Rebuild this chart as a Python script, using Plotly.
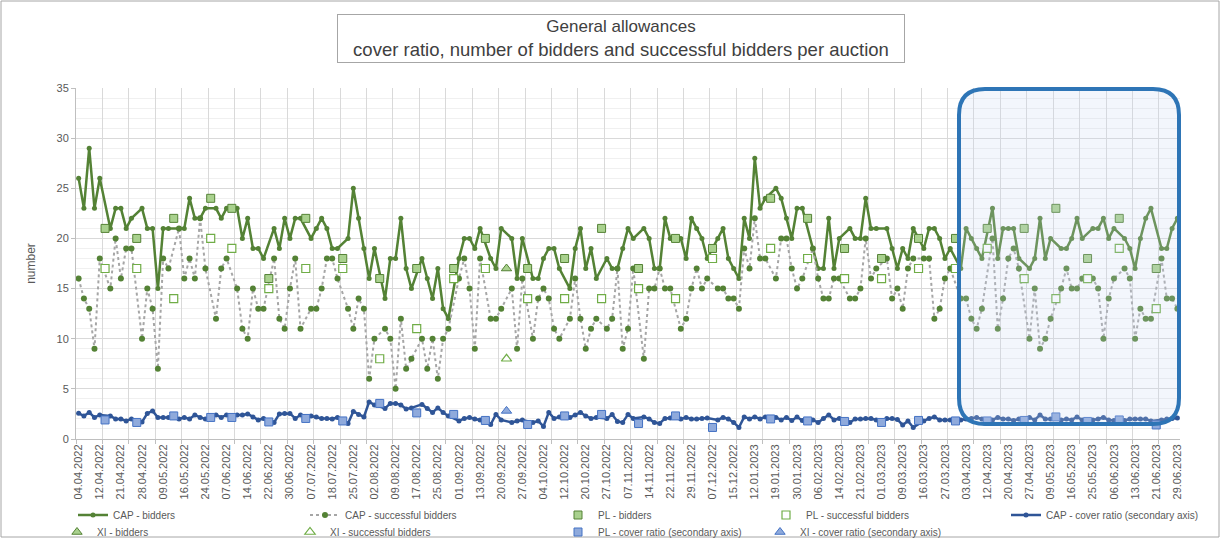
import plotly.graph_objects as go

# ---------------- data ----------------
tick_labels = ["04.04.2022", "12.04.2022", "21.04.2022", "28.04.2022", "09.05.2022", "16.05.2022",
               "24.05.2022", "07.06.2022", "14.06.2022", "22.06.2022", "30.06.2022", "07.07.2022",
               "18.07.2022", "25.07.2022", "02.08.2022", "09.08.2022", "17.08.2022", "25.08.2022",
               "01.09.2022", "13.09.2022", "20.09.2022", "27.09.2022", "04.10.2022", "12.10.2022",
               "20.10.2022", "27.10.2022", "07.11.2022", "14.11.2022", "22.11.2022", "29.11.2022",
               "07.12.2022", "15.12.2022", "12.01.2023", "19.01.2023", "30.01.2023", "06.02.2023",
               "14.02.2023", "21.02.2023", "01.03.2023", "09.03.2023", "16.03.2023", "27.03.2023",
               "03.04.2023", "12.04.2023", "20.04.2023", "27.04.2023", "09.05.2023", "16.05.2023",
               "25.05.2023", "06.06.2023", "13.06.2023", "21.06.2023", "29.06.2023"]

# CAP auctions (None = slot used by a PL / XI auction)
cap_bidders = [
    26, 23, 29, 23, 26, None, 21, 23, 23, 21,
    22, None, 23, 21, 21, 15, 21, 21, None, 21,
    21, 24, 22, 22, 23, None, 23, 22, 23, None,
    23, 20, 22, 19, 19, 18, None, 21, 19, 22,
    20, 22, 22, None, 20, 21, 22, 21, 19, 19,
    None, 20, 25, 22, 19, 16, 19, None, 14, 18,
    18, 22, 17, 15, None, 18, 16, 14, 17, 13,
    12, None, 18, 20, 20, 19, 21, None, 18, 17,
    21, None, 20, 16, 20, None, 16, 16, 18, 19,
    19, 17, None, 15, 19, 21, 17, 19, 16, None,
    18, 17, 17, 19, 21, 20, None, 21, 20, 17,
    17, 22, 20, None, 20, 18, 22, 21, 20, 18,
    None, 20, 21, 18, 17, 16, 22, 20, 28, 23,
    24, None, 25, 24, 22, 20, 23, 23, None, 19,
    17, 17, 22, 17, 20, None, 21, 20, 20, 24,
    21, 21, None, 21, 19, 17, 19, 18, 21, None,
    19, 21, 21, 20, 18, 19, None, 17, 21, 20,
    19, 18, None, 23, 18, 21, 21, 21, 18, None,
    17, 18, 22, 18, 20, None, 19, 19, 20, 22,
    20, None, 21, 21, 22, 20, 21, None, 20, 19,
    17, 20, 22, 23, None, 19, 19, 21, 22]

cap_successful = [
    16, 14, 13, 9, 18, None, 15, 20, 16, 19,
    19, None, 10, 15, 13, 7, 18, 17, None, 21,
    16, 18, 16, 22, 17, None, 12, 17, 18, None,
    15, 11, 10, 15, 13, 13, None, 18, 12, 11,
    15, 18, 11, None, 13, 13, 15, 18, 18, 16,
    None, 13, 11, 14, 13, 6, 10, None, 11, 10,
    5, 12, 7, 8, None, 10, 7, 10, 6, 10,
    11, None, 16, 18, 15, 9, 18, None, 12, 12,
    13, None, 15, 9, 16, None, 10, 14, 15, 14,
    11, 10, None, 12, 16, 12, 9, 11, 12, None,
    11, 12, 17, 9, 11, 17, None, 8, 15, 15,
    17, 15, 15, None, 11, 12, 15, 17, 15, 16,
    None, 15, 15, 14, 14, 13, 19, 17, 22, 18,
    18, None, 16, 20, 20, 17, 15, 16, None, 19,
    16, 14, 14, 16, 16, None, 14, 14, 15, 20,
    16, 17, None, 18, 14, 15, 13, 17, 18, None,
    18, 18, 12, 13, 16, 17, None, 14, 14, 12,
    11, 13, None, 20, 11, 14, 18, 19, 17, None,
    10, 15, 9, 10, 12, None, 15, 17, 15, 15,
    16, None, 16, 15, 10, 14, 16, None, 17, 16,
    10, 13, 12, 12, None, 18, 14, 14, 13]

cap_cover = [
    2.56, 2.3, 2.65, 2.15, 2.4, None, 2.3, 2.0, 2.0, 1.8,
    2.0, None, 1.7, 2.55, 2.8, 2.15, 2.15, 2.15, None, 2.0,
    2.15, 2.0, 2.4, 2.15, 2.0, None, 2.4, 2.15, 2.4, None,
    2.4, 2.4, 2.5, 2.2, 1.9, 2.05, None, 1.65, 2.5, 2.55,
    2.55, 2.05, 2.4, None, 2.3, 2.2, 2.05, 2.05, 2.0, 2.15,
    None, 1.55, 2.75, 2.45, 2.2, 3.7, 3.4, None, 3.05, 3.55,
    3.55, 3.4, 3.0, 3.1, None, 3.45, 3.05, 2.65, 3.1, 2.65,
    2.3, None, 1.8, 2.05, 2.15, 2.0, 1.9, None, 1.45, 2.45,
    1.9, None, 1.65, 1.8, 1.9, None, 1.65, 1.8, 1.25, 2.65,
    2.05, 2.2, None, 2.15, 2.4, 2.65, 2.3, 2.05, 2.15, None,
    2.05, 2.45, 1.75, 1.65, 2.45, 2.05, None, 2.2, 2.0, 1.65,
    1.55, 2.05, 2.1, None, 2.0, 2.15, 2.0, 2.0, 2.05, 2.1,
    None, 1.9, 2.15, 2.0, 1.65, 1.15, 2.2, 2.0, 2.2, 2.0,
    2.2, None, 2.15, 1.9, 2.15, 1.85, 2.2, 1.85, None, 1.9,
    1.65, 2.05, 2.4, 1.9, 2.05, None, 1.65, 2.0, 2.0, 2.05,
    2.05, 1.9, None, 2.05, 2.05, 1.95, 1.4, 1.8, 1.15, None,
    1.8, 2.05, 2.2, 1.9, 1.9, 1.9, None, 1.9, 2.0, 2.05,
    2.15, 2.0, None, 1.9, 2.15, 2.0, 2.0, 1.85, 2.0, None,
    2.15, 1.9, 2.4, 2.0, 2.0, None, 1.9, 2.0, 1.9, 2.2,
    1.9, None, 1.9, 2.0, 2.15, 1.9, 1.85, None, 1.85, 2.0,
    2.0, 2.0, 2.0, 1.8, None, 1.9, 2.0, 2.05, 2.1]

# PL auctions (auction slot index, values)
pl_index = [5, 11, 18, 25, 29, 36, 43, 50, 57, 64, 71, 77, 85, 92, 99,
            106, 113, 120, 131, 138, 145, 152, 159, 166, 172, 179, 185, 191, 197, 204]
pl_bidders = [21, 20, 22, 24, 23, 16, 22, 18, 16, 17, 17, 20, 17, 18, 21,
              17, 20, 19, 24, 22, 19, 18, 20, 20, 21, 21, 23, 18, 22, 17]
pl_successful = [17, 17, 14, 20, 19, 15, 17, 17, 8, 11, 16, 17, 14, 14, 14,
                 15, 14, 18, 19, 18, 16, 16, 17, 17, 19, 16, 14, 16, 19, 13]
pl_cover = [1.9, 1.65, 2.3, 2.15, 2.15, 1.7, 2.05, 1.8, 3.55, 2.6, 2.45, 1.85, 1.45, 2.3, 2.45,
            1.55, 2.3, 1.15, 2.0, 1.8, 1.75, 1.65, 1.85, 1.8, 1.8, 1.85, 2.2, 1.75, 1.9, 1.4]

# XI auctions
xi_index = [81]
xi_bidders = [17]
xi_successful = [8]
xi_cover = [2.8]

# ---------------- figure ----------------
N = len(cap_bidders)
x_all = list(range(N))

GREEN = "#548235"
LGREEN = "#A9D18E"
BLUE = "#2F5597"
LBLUE = "#8FAADC"
FONT = "Liberation Sans"

fig = go.Figure()

fig.add_trace(go.Scatter(
    x=x_all, y=cap_bidders, name="CAP - bidders", mode="lines+markers", connectgaps=True,
    line=dict(color=GREEN, width=2.5), marker=dict(color=GREEN, size=5), legend="legend"))
fig.add_trace(go.Scatter(
    x=x_all, y=cap_successful, name="CAP - successful bidders", mode="lines+markers", connectgaps=True,
    line=dict(color="#A6A6A6", width=2, dash="dot"), marker=dict(color=GREEN, size=6), legend="legend2"))
fig.add_trace(go.Scatter(
    x=pl_index, y=pl_bidders, name="PL - bidders", mode="markers",
    marker=dict(symbol="square", size=8, color=LGREEN, line=dict(color=GREEN, width=1)), legend="legend3"))
fig.add_trace(go.Scatter(
    x=pl_index, y=pl_successful, name="PL - successful bidders", mode="markers",
    marker=dict(symbol="square", size=8, color="white", line=dict(color="#70AD47", width=1.2)), legend="legend4"))
fig.add_trace(go.Scatter(
    x=xi_index, y=xi_bidders, name="XI - bidders", mode="markers",
    marker=dict(symbol="triangle-up", size=9, color=LGREEN, line=dict(color=GREEN, width=1)), legend="legend6"))
fig.add_trace(go.Scatter(
    x=xi_index, y=xi_successful, name="XI - successful bidders", mode="markers",
    marker=dict(symbol="triangle-up", size=9, color="white", line=dict(color="#70AD47", width=1.2)), legend="legend7"))
fig.add_trace(go.Scatter(
    x=x_all, y=cap_cover, name="CAP - cover ratio (secondary axis)", mode="lines+markers", connectgaps=True,
    line=dict(color=BLUE, width=2.5), marker=dict(color=BLUE, size=5),
    xaxis="x2", yaxis="y2", legend="legend5"))
fig.add_trace(go.Scatter(
    x=pl_index, y=pl_cover, name="PL - cover ratio (secondary axis)", mode="markers",
    marker=dict(symbol="square", size=8, color=LBLUE, line=dict(color="#4472C4", width=1)),
    xaxis="x2", yaxis="y2", legend="legend8"))
fig.add_trace(go.Scatter(
    x=xi_index, y=xi_cover, name="XI - cover ratio (secondary axis)", mode="markers",
    marker=dict(symbol="triangle-up", size=9, color=LBLUE, line=dict(color="#4472C4", width=1)),
    xaxis="x2", yaxis="y2", legend="legend9"))

# layout geometry (px)
L, R, T, B = 76, 41, 88, 100
W, H = 1221, 539
pw, ph = W - L - R, H - T - B


def px_x(p):
    return (p - L) / pw


def px_y(p):
    return (H - B - p) / ph


xrange_ = [-0.5, N - 0.5]
grid_vals = [k - 0.5 for k in range(0, N, 5)]

legend_common = dict(orientation="v", xanchor="left", yanchor="middle", bgcolor="rgba(0,0,0,0)",
                     borderwidth=0, font=dict(family=FONT, size=10, color="#595959"))
# (text start x, row centre y) in px
legend_pos = {
    "legend": (113, 515), "legend2": (345, 515), "legend3": (598, 515), "legend4": (806, 515),
    "legend5": (1046, 515), "legend6": (97, 532), "legend7": (330, 532), "legend8": (598, 532),
    "legend9": (800, 532),
}
legends = {k: dict(legend_common, x=px_x(v[0] - 40), y=px_y(v[1])) for k, v in legend_pos.items()}

# rounded highlight box (paper coords)
x0, x1 = px_x(959), px_x(1179)
y0, y1 = px_y(424), px_y(89)
rx, ry = 26 / pw, 26 / ph
box_path = (f"M {x0+rx},{y1} L {x1-rx},{y1} Q {x1},{y1} {x1},{y1-ry} L {x1},{y0+ry} "
            f"Q {x1},{y0} {x1-rx},{y0} L {x0+rx},{y0} Q {x0},{y0} {x0},{y0+ry} "
            f"L {x0},{y1-ry} Q {x0},{y1} {x0+rx},{y1} Z")

fig.update_layout(
    width=W, height=H, autosize=False,
    margin=dict(l=L, r=R, t=T, b=B, autoexpand=False),
    paper_bgcolor="white", plot_bgcolor="white",
    font=dict(family=FONT, color="#595959"),
    showlegend=True,
    xaxis=dict(range=xrange_, tickmode="array", tickvals=list(range(0, N, 4)), ticktext=tick_labels,
               tickangle=-90, showgrid=False, ticks="", zeroline=False, automargin=False,
               showline=True, linecolor="#BFBFBF", linewidth=1,
               tickfont=dict(family=FONT, size=11, color="#595959")),
    xaxis2=dict(range=xrange_, overlaying="x", side="bottom", tickmode="array", tickvals=grid_vals,
                showticklabels=False, showgrid=True, gridcolor="#D9D9D9", gridwidth=1,
                ticks="outside", ticklen=4, tickcolor="#BFBFBF", zeroline=False, showline=False),
    yaxis=dict(range=[0, 35], dtick=5, showgrid=True, gridcolor="#D9D9D9", gridwidth=1,
               minor=dict(dtick=1, showgrid=True, gridcolor="#F0F0F0", gridwidth=1),
               zeroline=False, showline=True, linecolor="#BFBFBF", ticks="outside", ticklen=4,
               tickcolor="#BFBFBF", tickfont=dict(family=FONT, size=11, color="#595959"), automargin=False,
               title=dict(text="number", font=dict(family=FONT, size=12, color="#595959"), standoff=18)),
    yaxis2=dict(range=[0, 35], overlaying="y", side="right", visible=False),
    annotations=[dict(
        text=("<span style='font-size:17px'>General allowances</span><br>"
              "cover ratio, number of bidders and successful bidders per auction"),
        xref="paper", yref="paper", x=px_x(621), y=px_y(38.5), xanchor="center", yanchor="middle",
        showarrow=False, width=566, height=47, align="center",
        bordercolor="#A6A6A6", borderwidth=1, borderpad=0,
        font=dict(family=FONT, size=18.5, color="#404040"))],
    shapes=[
        dict(type="path", path=box_path, xref="paper", yref="paper",
             line=dict(color="#2E75B6", width=4), fillcolor="rgba(200,214,240,0.22)", layer="above"),
        dict(type="rect", xref="paper", yref="paper", x0=px_x(1), x1=px_x(1219), y0=px_y(537), y1=px_y(1),
             line=dict(color="#A6A6A6", width=1), fillcolor="rgba(0,0,0,0)", layer="below"),
    ],
    **legends,
)

fig.write_html("out.html", config={"displayModeBar": False},
               post_script="document.body.style.margin='0';")
